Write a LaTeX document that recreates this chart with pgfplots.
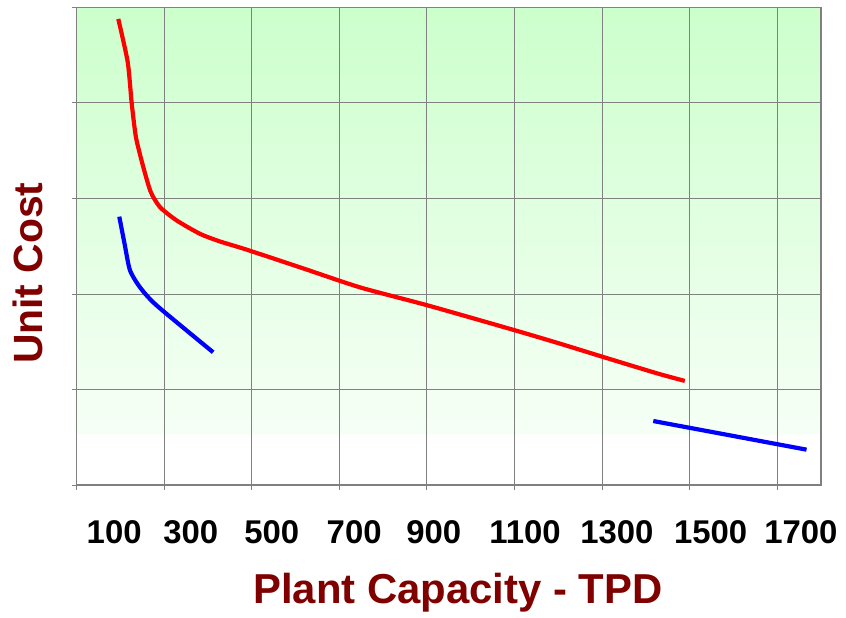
\documentclass[border=0pt]{standalone}
\usepackage{pgfplots}
\pgfplotsset{compat=1.18}
\usepackage{fontspec}
\setmainfont{Liberation Sans}
\definecolor{maroon}{RGB}{128,0,0}
\definecolor{gridgray}{RGB}{128,128,128}
\definecolor{topgreen}{RGB}{204,255,204}
\definecolor{lowgreen}{RGB}{246,255,246}
\pgfdeclareverticalshading{plotbg}{100bp}{color(0bp)=(white); color(30.3bp)=(white); color(30.4bp)=(lowgreen); color(75bp)=(topgreen); color(100bp)=(topgreen)}
\begin{document}
\begin{tikzpicture}
\path[use as bounding box] (-76.5bp,-133bp) rectangle (769.5bp,485bp);
\begin{axis}[
  scale only axis,
  width=744.5bp, height=477.5bp,
  xmin=0, xmax=1700, ymin=0, ymax=5,
  axis background/.style={shading=plotbg},
  xtick={0,200,...,1600}, xticklabels={},
  ytick={0,1,...,5}, yticklabels={},
  extra x ticks={86,261,446,634,816,1024,1234,1448,1654},
  extra x tick labels={100,300,500,700,900,1100,1300,1500,1700},
  extra x tick style={grid=none, major tick length=0pt,
    xticklabel style={anchor=base, yshift=-58bp, font=\fontsize{33}{36}\selectfont\bfseries}},
  grid=major,
  major grid style={gridgray, line width=1bp},
  axis line style={gridgray, line width=1.5bp},
  tick style={gridgray, line width=1bp},
  tick align=outside,
  major tick length=5bp,
  xtick pos=bottom, ytick pos=left,
  xlabel={Plant Capacity - TPD},
  xlabel style={at={(axis description cs:0.5124,0)}, anchor=base, yshift=-118bp,
    font=\fontsize{42}{46}\selectfont\bfseries, text=maroon},
  ylabel={Unit Cost},
  ylabel style={at={(axis description cs:-0.045,0.4435)}, anchor=base,
    font=\fontsize{41}{46}\selectfont\bfseries, text=maroon},
]
\addplot[red, line width=4.2bp, smooth, tension=0.4] coordinates {
(95.4,4.88) (116.9,4.43) (126,4.00) (135.8,3.64) (152.5,3.33) (169.4,3.07)
(190.6,2.91) (228.8,2.77) (282,2.63) (327.6,2.55) (384.7,2.47)
(510,2.28) (647,2.07) (802.5,1.88) (1001,1.62) (1104,1.48) (1203,1.34)
(1325,1.17) (1389,1.09)
};
\addplot[blue, line width=4.2bp, smooth, tension=0.4] coordinates {
(97.7,2.81) (110,2.52) (122,2.25) (145,2.07) (183,1.88) (312,1.39)
};
\addplot[blue, line width=4.2bp] coordinates {
(1317,0.67) (1667,0.37)
};
\end{axis}
\end{tikzpicture}
\end{document}
